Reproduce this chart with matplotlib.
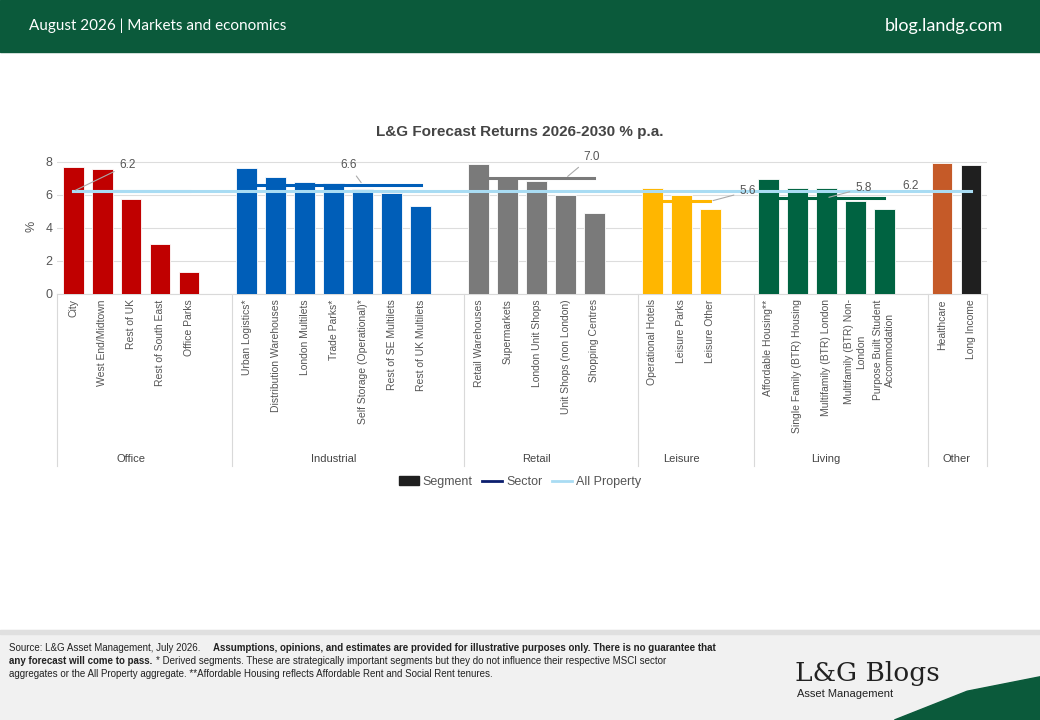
import matplotlib
matplotlib.use("Agg")
import matplotlib.pyplot as plt
import matplotlib.transforms as mtransforms
from matplotlib.patches import Rectangle, Polygon
from matplotlib.lines import Line2D

groups = ["Office", "Industrial", "Retail", "Leisure", "Living", "Other"]
segments = [
    ["City", "West End/Midtown", "Rest of UK", "Rest of South East", "Office Parks"],
    ["Urban Logistics*", "Distribution Warehouses", "London Multilets", "Trade Parks*",
     "Self Storage (Operational)*", "Rest of SE Multilets", "Rest of UK Multilets"],
    ["Retail Warehouses", "Supermarkets", "London Unit Shops", "Unit Shops (non London)", "Shopping Centres"],
    ["Operational Hotels", "Leisure Parks", "Leisure Other"],
    ["Affordable Housing**", "Single Family (BTR) Housing", "Multifamily (BTR) London",
     "Multifamily (BTR) Non-\nLondon", "Purpose Built Student\nAccommodation"],
    ["Healthcare", "Long Income"],
]
values = [
    [7.7, 7.55, 5.75, 3.0, 1.3],
    [7.6, 7.1, 6.75, 6.7, 6.35, 6.1, 5.3],
    [7.85, 7.0, 6.85, 6.0, 4.9],
    [6.4, 6.0, 5.15],
    [6.95, 6.4, 6.4, 5.6, 5.15],
    [7.9, 7.8],
]
sector = [6.2, 6.6, 7.0, 5.6, 5.8, None]
all_property = 6.2
colors = ["#c00000", "#005eb8", "#7a7a7a", "#ffb600", "#006341", "#c55a28"]
other_colors = ["#c55a28", "#1f1f1f"]
sector_colors = ["#9fd8f0", "#005eb8", "#7a7a7a", "#ffb600", "#006341"]

fig = plt.figure(figsize=(10.4, 7.2), dpi=100)
plt.rcParams['font.family'] = ['Liberation Sans', 'DejaVu Sans']

# header
fig.patches.append(Rectangle((0, 1 - 52/720), 1, 52/720, transform=fig.transFigure, color="#0b5a3b", zorder=0))
fig.text(0.028, 1 - 26/720, "August 2026 | Markets and economics", color="white", fontsize=11, va="center", family="Lato")
fig.text(0.965, 1 - 26/720, "blog.landg.com", color="white", fontsize=13, va="center", ha="right", family="Lato")
# footer
fig.patches.append(Rectangle((0, 0), 1, 90/720, transform=fig.transFigure, color="#f1f1f1", zorder=0))
fig.patches.append(Rectangle((0, 86/720), 1, 4/720, transform=fig.transFigure, color="#e0e0e0", zorder=0))
fig.text(0.009, 1 - 648/720, "Source: L&G Asset Management, July 2026. ", fontsize=7, va="center", color="#222")
fig.text(0.205, 1 - 648/720, "Assumptions, opinions, and estimates are provided for illustrative purposes only. There is no guarantee that",
         fontsize=7, va="center", weight="bold", color="#222")
fig.text(0.009, 1 - 661/720, "any forecast will come to pass.", fontsize=7, va="center", weight="bold", color="#222")
fig.text(0.150, 1 - 661/720, "* Derived segments. These are strategically important segments but they do not influence their respective MSCI sector",
         fontsize=7, va="center", color="#222")
fig.text(0.009, 1 - 674/720, "aggregates or the All Property aggregate. **Affordable Housing reflects Affordable Rent and Social Rent tenures.",
         fontsize=7, va="center", color="#222")
fig.text(0.764, 1 - 673/720, "L&G Blogs", fontsize=19, family="DejaVu Serif", va="center", color="#222")
fig.text(0.766, 1 - 694/720, "Asset Management", fontsize=8, va="center", color="#222")
fig.patches.append(Polygon([(0.86, 0), (0.93, 0.04), (1, 0.06), (1, 0)], closed=True,
                           transform=fig.transFigure, color="#0b5a3b", zorder=1))

ax = fig.add_axes([0.055, 0.592, 0.894, 0.188])
pos = 0
xs_all = []
ticks, ticklabels = [], []
bounds = [-0.55]
centers = []
for gi, (segs, vals) in enumerate(zip(segments, values)):
    xs = list(range(pos, pos + len(vals)))
    cols = other_colors if gi == 5 else [colors[gi]] * len(vals)
    ax.bar(xs, vals, width=0.72, color=cols, edgecolor="white", linewidth=0.6, zorder=3)
    if sector[gi] is not None:
        ax.plot([xs[0], xs[-1]], [sector[gi]] * 2, color=sector_colors[gi], lw=2.2, zorder=4)
    ticks += xs
    ticklabels += segs
    xs_all += xs
    centers.append((xs[0] + xs[-1]) / 2)
    pos += len(vals) + (1 if gi < 5 else 0)
    if gi < 5:
        bounds.append(pos - 0.5)
bounds.append(pos - 0.45)

ax.plot([xs_all[0], xs_all[-1]], [all_property] * 2, color="#a9dcf3", lw=2.2, zorder=5)

lab = [(0, 6.2, 1.6, 7.8, "6.2"), (10, 6.6, 9.5, 7.8, "6.6"), (17, 7.0, 17.6, 8.3, "7.0"),
       (22, 5.6, 23.0, 6.2, "5.6"), (26, 5.8, 27.0, 6.4, "5.8")]
for x0, y0, x1, y1, t in lab:
    ax.annotate(t, xy=(x0, y0), xytext=(x1, y1), fontsize=8.5, color="#555", ha="left" if x1 > x0 else "center",
                va="center", arrowprops=dict(arrowstyle="-", color="#aaa", lw=0.8), zorder=6, annotation_clip=False)
ax.text(29.2, 6.5, "6.2", fontsize=8.5, color="#555", ha="right", va="center", zorder=6)

ax.set_xlim(-0.55, pos - 0.45)
ax.set_ylim(0, 8.2)
ax.set_yticks([0, 2, 4, 6, 8])
ax.set_ylabel("%", fontsize=9, color="#555", labelpad=6)
ax.tick_params(axis="y", length=0, labelsize=9, labelcolor="#555")
ax.yaxis.grid(True, color="#dddddd", lw=0.8, zorder=0)
ax.set_xticks(ticks)
ax.set_xticklabels(ticklabels, rotation=90, fontsize=7.5, color="#555", va="top")
ax.tick_params(axis="x", length=0, pad=4)
for s in ["top", "right", "left"]:
    ax.spines[s].set_visible(False)
ax.spines["bottom"].set_color("#d9d9d9")

trans = mtransforms.blended_transform_factory(ax.transData, ax.transAxes)
for b in bounds:
    ax.plot([b, b], [0, -1.27], transform=trans, color="#d9d9d9", lw=0.8, clip_on=False)
for c, g in zip(centers, groups):
    ax.text(c, -1.22, g, transform=trans, ha="center", va="center", fontsize=8, color="#444")

fig.text(0.5, 1 - 132/720, "L&G Forecast Returns 2026-2030 % p.a.", ha="center", va="center",
         fontsize=11, weight="bold", color="#444")

handles = [Rectangle((0, 0), 1, 1, color="#1f1f1f"),
           Line2D([], [], color="#0b1e6e", lw=2),
           Line2D([], [], color="#a9dcf3", lw=2)]
fig.legend(handles, ["Segment", "Sector", "All Property"], loc="center", bbox_to_anchor=(0.5, 1 - 482/720),
           ncol=3, frameon=False, fontsize=9, handlelength=1.6, columnspacing=0.8, handletextpad=0.3,
           labelcolor="#555")

fig.savefig("out.png", dpi=100)
